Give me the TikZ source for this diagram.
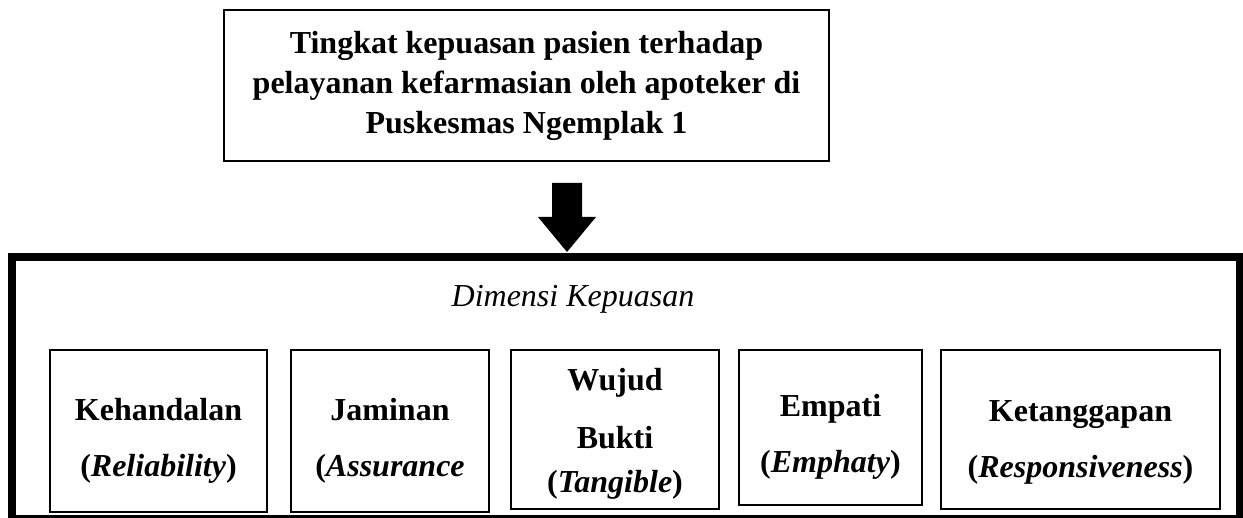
\documentclass[tikz,border=0pt]{standalone}
\usepackage{fontspec}
\setmainfont{Liberation Serif}
\newcommand{\txtsize}{\fontsize{16}{20}\selectfont}
\newcommand{\topstrut}[1]{\rule{0pt}{#1}}

\begin{document}
\begin{tikzpicture}[x=0.5pt, y=0.5pt,
    topbox/.style={draw, line width=0.75pt, align=center, inner sep=0pt, font=\txtsize\bfseries},
    dimbox/.style={draw, line width=0.8pt, align=center, inner sep=0pt, font=\txtsize\bfseries}]
  \useasboundingbox (0,0) rectangle (1243,-518);
  \node[topbox, minimum width=302.5pt, minimum height=75.5pt] (tingkat) at (526.5,-85.5)
    {Tingkat kepuasan pasien terhadap\\ pelayanan kefarmasian oleh apoteker di\\ Puskesmas Ngemplak 1};
  \node[draw, line width=4pt, minimum width=614pt, minimum height=131pt, inner sep=0pt] (dimensi) at (626,-388) {};
  \node[font=\txtsize\itshape] (judul) at (573,-299) {Dimensi Kepuasan};
  \coordinate (arrtop) at (567,-183);
  \coordinate (arrtip) at (567,-252);
  \fill (arrtop) ++(-15,0) -- ++(30,0) -- ++(0,-34) -- ++(14,0) -- (arrtip) -- ++(-29,35) -- ++(14,0) -- cycle;
  \node[dimbox, minimum width=108.5pt, minimum height=81pt] (kehandalan) at (158.5,-431)
    {\topstrut{21pt}Kehandalan\\[8pt] (\textit{Reliability})};
  \node[dimbox, minimum width=99pt, minimum height=81pt] (jaminan) at (390,-431)
    {\topstrut{21pt}Jaminan\\[8pt] (\textit{Assurance}};
  \node[dimbox, minimum width=104pt, minimum height=79.5pt] (wujud) at (615,-429.5)
    {\topstrut{15pt}Wujud\\[9pt] Bukti\\[2pt] (\textit{Tangible})};
  \node[dimbox, minimum width=91.5pt, minimum height=77.5pt] (empati) at (830.5,-427.5)
    {\topstrut{20pt}Empati\\[8pt] (\textit{Emphaty})};
  \node[dimbox, minimum width=139.5pt, minimum height=79.5pt] (ketanggapan) at (1080.5,-429.5)
    {\topstrut{23pt}Ketanggapan\\[8pt] (\textit{Responsiveness})};
\end{tikzpicture}
\end{document}
